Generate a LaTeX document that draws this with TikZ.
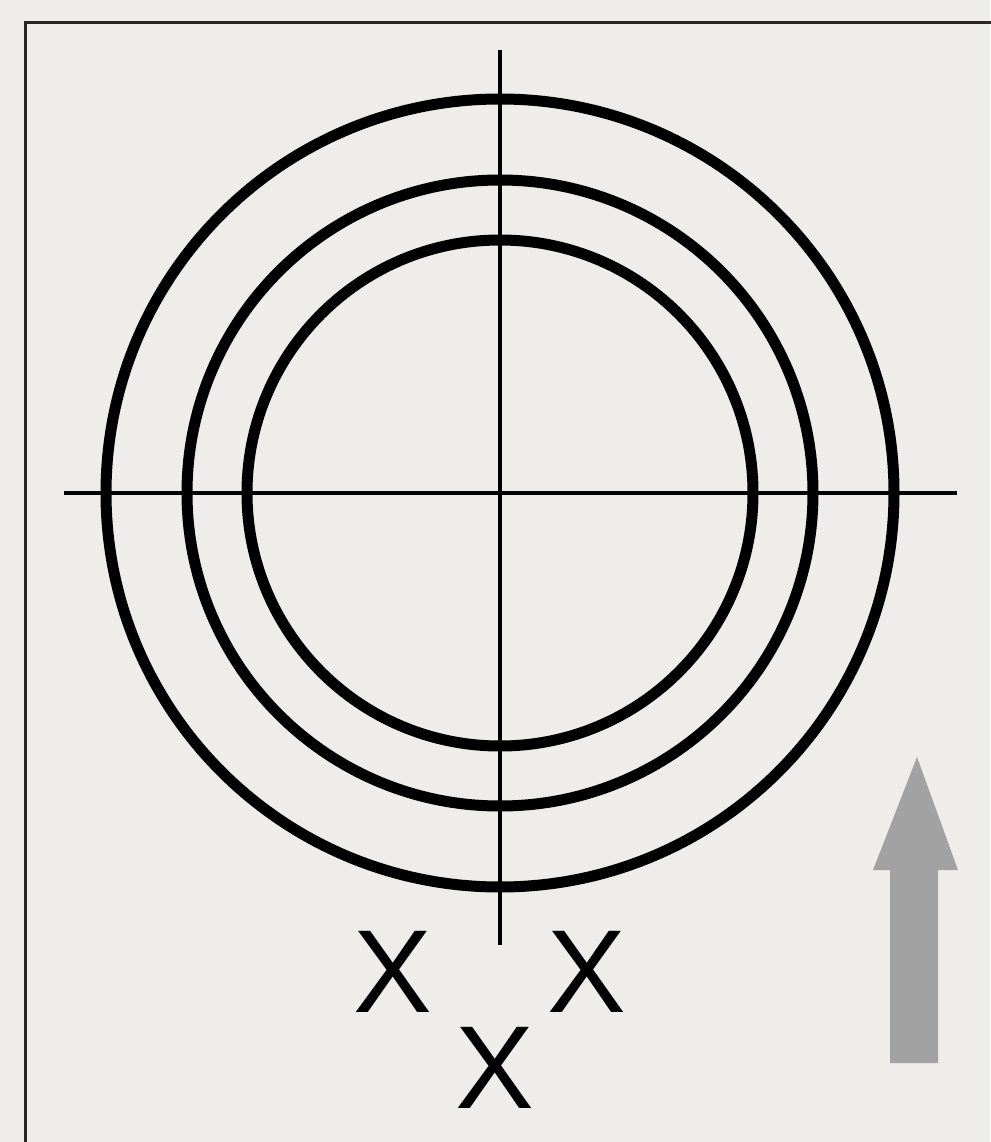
\documentclass[tikz,border=0pt]{standalone}
\usepackage{fontspec}
\setmainfont{Liberation Sans}
\definecolor{bgcol}{HTML}{EFEDE9}
\definecolor{arrowgray}{HTML}{A2A2A2}
\tikzset{
  ring/.style={draw=black, line width=11pt},
  axis/.style={draw=black, line width=4pt},
  frame/.style={draw=black!85, line width=3pt},
  xmark/.style={inner sep=0pt, font=\fontsize{118}{118}\selectfont},
  bigarrow/.style={fill=arrowgray, draw=none}
}
\begin{document}
\begin{tikzpicture}[x=1pt,y=-1pt]
\useasboundingbox (0,0) rectangle (990,1142);
\fill[bgcol] (0,0) rectangle (990,1142);
\draw[frame] (25,1200) -- (25,23) -- (1050,23);
% crosshair
\coordinate (vtop) at (500,50);
\coordinate (vbot) at (500,945);
\coordinate (hleft) at (64,493);
\coordinate (hright) at (957,493);
\draw[axis] (vtop) -- (vbot);
\draw[axis] (hleft) -- (hright);
% rings
\coordinate (c) at (500,493);
\draw[ring] (c) circle[radius=394pt];
\draw[ring] (c) circle[radius=313pt];
\draw[ring] (c) circle[radius=253pt];
% X marks
\node[xmark] (xl) at (393,972) {X};
\node[xmark] (xr) at (587,972) {X};
\node[xmark] (xb) at (495,1068) {X};
% arrow
\fill[bigarrow] (917,757) -- (958,870) -- (938,870) -- (938,1063) -- (890,1063) -- (890,870) -- (873,870) -- cycle;
\end{tikzpicture}
\end{document}
